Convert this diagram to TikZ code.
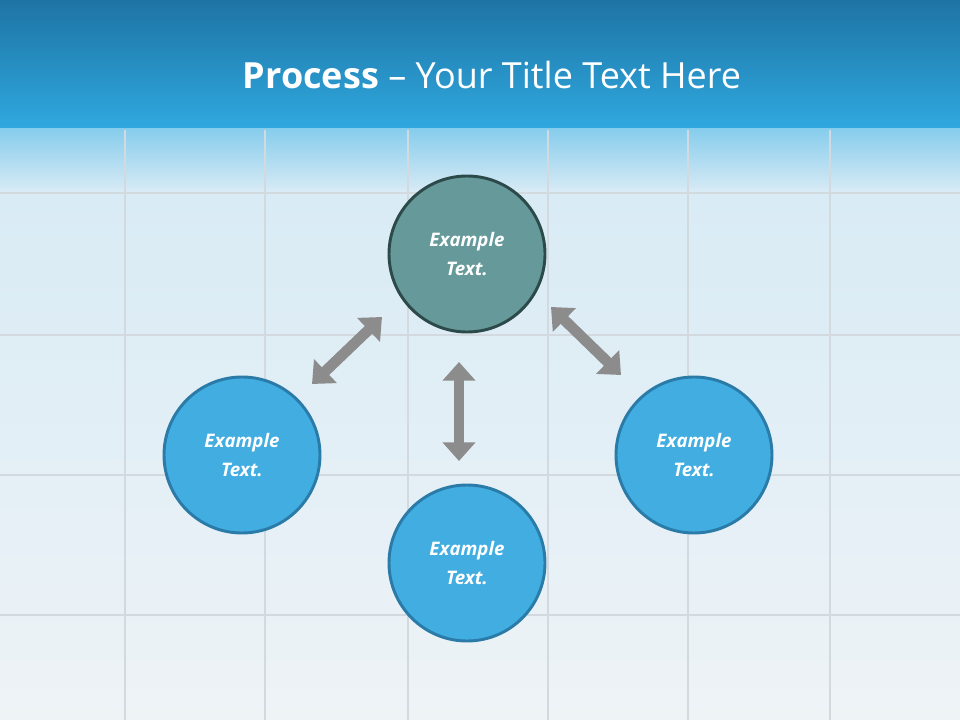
\documentclass[tikz,border=0pt]{standalone}
\usepackage{fontspec}
\setmainfont{Open Sans}
\usetikzlibrary{arrows.meta}
\definecolor{topA}{HTML}{1E74A4}
\definecolor{topB}{HTML}{2FA8DF}
\definecolor{paleA}{HTML}{D6EAF5}
\definecolor{paleB}{HTML}{EEF3F6}
\definecolor{tileline}{HTML}{D2DAE0}
\definecolor{greenfill}{HTML}{66999A}
\definecolor{greenedge}{HTML}{2D4A4A}
\definecolor{bluefill}{HTML}{41ADE0}
\definecolor{blueedge}{HTML}{2A7BA8}
\definecolor{arrowgray}{HTML}{8C8C8C}
\tikzset{
  x=0.75pt,y=-0.75pt,
  gcirc/.style={circle,minimum size=117pt,line width=2.2pt,draw=greenedge,fill=greenfill,text=white,font=\bfseries\itshape\fontsize{14}{22}\selectfont,align=center},
  bcirc/.style={gcirc,draw=blueedge,fill=bluefill},
  darrow/.style={draw=arrowgray,line width=8pt,{Triangle[width=24pt,length=14pt]}-{Triangle[width=24pt,length=14pt]}}
}
\begin{document}
\begin{tikzpicture}
\useasboundingbox (0,0) rectangle (960,720);
\shade[top color=paleA,bottom color=paleB] (0,125) rectangle (960,720);
\shade[top color=white!40!topB,bottom color=paleA] (0,125) rectangle (960,190);
\foreach \x in {125,265,408,548,688,830}{\draw[tileline,line width=2pt] (\x,130) -- (\x,720);}
\foreach \y in {193,335,475,615}{\draw[tileline,line width=2pt] (0,\y) -- (960,\y);}
\shade[top color=topA,bottom color=topB] (0,0) rectangle (960,128);
\node[text=white,font=\fontsize{27}{31}\selectfont] (title) at (492,75) {\textbf{Process} – Your Title Text Here};
\node[gcirc] (top) at (467,254) {Example\\Text.};
\node[bcirc] (left) at (242,455) {Example\\Text.};
\node[bcirc] (right) at (694,455) {Example\\Text.};
\node[bcirc] (bottom) at (467,563) {Example\\Text.};
\coordinate (l1) at (312,384); \coordinate (l2) at (382,317);
\coordinate (v1) at (459,362); \coordinate (v2) at (459,461);
\coordinate (r1) at (551,307); \coordinate (r2) at (621,375);
\draw[darrow] (l1) -- (l2);
\draw[darrow] (v1) -- (v2);
\draw[darrow] (r1) -- (r2);
\end{tikzpicture}
\end{document}
